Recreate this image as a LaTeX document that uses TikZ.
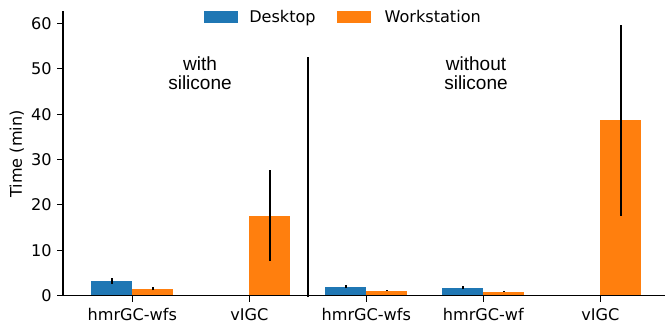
\documentclass[tikz,border=0pt]{standalone}
\usepackage{fontspec}
\setmainfont{DejaVu Sans}
\newfontfamily\annofont{Liberation Sans}
\definecolor{deskblue}{HTML}{1F77B4}
\definecolor{workorange}{HTML}{FF7F0E}
\tikzset{
  spine/.style={line width=0.8pt, black, line cap=rect},
  tickline/.style={line width=0.8pt, black},
  errbar/.style={line width=1.45pt, black},
  divider/.style={line width=1.5pt, black},
  ticklabel/.style={inner sep=0pt, font=\fontsize{11.6}{13.9}\selectfont},
  annot/.style={inner sep=0pt, anchor=base, font=\annofont\fontsize{13.7}{14}\selectfont},
}
\begin{document}
\begin{tikzpicture}[x=0.72pt, y=-0.72pt, font=\fontsize{11.6}{13.9}\selectfont]
\useasboundingbox (0,0) rectangle (665,326);

% legend
\fill[deskblue] (204,11) rectangle (237.7,22.7);
\node[ticklabel, anchor=base west] (legdesk) at (249,22.6) {Desktop};
\fill[workorange] (337,11) rectangle (370.7,22.7);
\node[ticklabel, anchor=base west] (legwork) at (384.3,22.6) {Workstation};

% axis label
\node[ticklabel, rotate=90] (ylab) at (16.8,154) {Time (min)};

% group annotations
\node[annot] (withA) at (200,70.7) {with};
\node[annot] (withB) at (200,90) {silicone};
\node[annot] (woA) at (476,70.7) {without};
\node[annot] (woB) at (476,90) {silicone};

% data area: one unit per group horizontally, minutes vertically
\begin{scope}[shift={(132.3,295.5)}, x=84.24pt, y=3.264pt]
  % bars
  \fill[deskblue]   (-0.35,0) rectangle (0,3.2);
  \fill[workorange] (0,0)     rectangle (0.35,1.45);
  \fill[workorange] (1,0)     rectangle (1.35,17.6);
  \fill[deskblue]   (1.65,0)  rectangle (2,1.95);
  \fill[workorange] (2,0)     rectangle (2.35,1.06);
  \fill[deskblue]   (2.65,0)  rectangle (3,1.73);
  \fill[workorange] (3,0)     rectangle (3.35,0.85);
  \fill[workorange] (4,0)     rectangle (4.35,38.7);
  % error bars
  \draw[errbar] (-0.175,2.54) -- (-0.175,3.86);
  \draw[errbar] (0.175,1.12)  -- (0.175,1.78);
  \draw[errbar] (1.175,7.6)   -- (1.175,27.7);
  \draw[errbar] (1.825,1.62)  -- (1.825,2.27);
  \draw[errbar] (2.175,0.95)  -- (2.175,1.17);
  \draw[errbar] (2.825,1.4)   -- (2.825,2.05);
  \draw[errbar] (3.175,0.74)  -- (3.175,0.96);
  \draw[errbar] (4.175,17.6)  -- (4.175,59.7);
  % separator between the two groups
  \draw[divider] (1.5,-0.35) -- (1.5,52.7);
  % spines
  \draw[spine] (-0.592,62.7) -- (-0.592,0) -- (4.56,0);
  % y ticks
  \foreach \v in {0,10,...,60} {
    \draw[tickline] (-0.592,\v) -- ++(-4.1pt,0);
    \node[ticklabel, anchor=east] (yt\v) at ([xshift=-8.1pt]-0.592,\v) {\v};
  }
  % x ticks
  \foreach \x/\t [count=\i] in {0/hmrGC-wfs, 1/vIGC, 2/hmrGC-wfs, 3/hmrGC-wf, 4/vIGC} {
    \draw[tickline] (\x,0) -- ++(0,-5pt);
    \node[ticklabel, anchor=base] (xt\i) at ([yshift=-17.9pt]\x,0) {\t};
  }
\end{scope}
\end{tikzpicture}
\end{document}
